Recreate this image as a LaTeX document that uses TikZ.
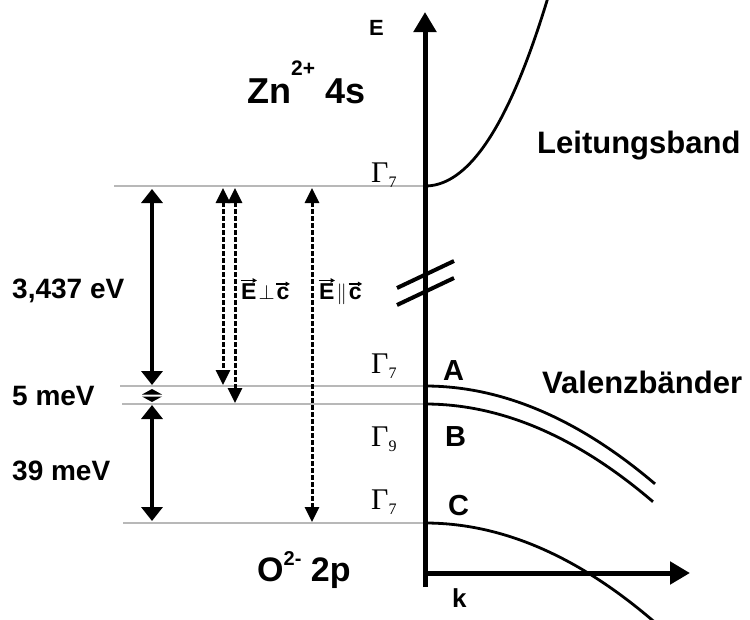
\documentclass[tikz,border=0pt]{standalone}
\usepackage{fontspec}
\setmainfont{Liberation Sans}
\newfontfamily\gamfont{Liberation Serif}
\usetikzlibrary{arrows.meta}
\newcommand\fs[1]{\fontsize{#1}{#1}\selectfont}
\newcommand\vecb[1]{\tikz[baseline=(v.base)]{\node[inner sep=0pt, anchor=center] (v) at (0,0) {#1};
  \draw[line width=1.2pt, -{Triangle[width=4.5pt,length=4.5pt]}] ([yshift=2.5pt]v.north west) -- ([yshift=2.5pt,xshift=0.5pt]v.north east);}}
\newcommand\gam[1]{{\gamfont\mdseries\fs{30}Γ\raisebox{-5pt}{\fs{16}#1}}}
\tikzset{
  lbl/.style={inner sep=0pt, anchor=base west, font=\bfseries},
  level/.style={draw=black!28, line width=1.4pt},
  band/.style={line width=2.8pt},
  axis/.style={line width=5pt, -{Triangle[width=22pt,length=20pt]}},
  bigarr/.style={line width=4pt, {Triangle[width=21pt,length=14pt]}-{Triangle[width=21pt,length=14pt]}},
  dasharr/.style={line width=3pt, dash pattern=on 4.5pt off 2.5pt, {Triangle[width=14pt,length=15pt]}-{Triangle[width=14pt,length=15pt]}},
}
\begin{document}
\begin{tikzpicture}[x=1pt,y=-1pt]
\useasboundingbox (0,0) rectangle (750,619);
% level lines
\coordinate (L1) at (425,186);
\coordinate (L2) at (425,386);
\coordinate (L3) at (425,404);
\coordinate (L4) at (425,523);
\draw[level] (114,186) -- (L1);
\draw[level] (120,386) -- (L2);
\draw[level] (122,404) -- (L3);
\draw[level] (123,523) -- (L4);
% axes
\coordinate (O) at (425,587);
\coordinate (Etop) at (425,12);
\coordinate (K0) at (423,573);
\coordinate (Kend) at (690,573);
\draw[axis] (O) -- (Etop);
\draw[axis] (K0) -- (Kend);
% break marks
\draw[line width=4pt] (397,288) -- (454,261);
\draw[line width=4pt] (397,305) -- (454,278);
% bands
\draw[band] plot[domain=0:123, samples=80] ({425+\x},{186-105*(\x/100)^2-16*(\x/100)^3});
\draw[band] plot[domain=0:230, samples=80] ({425+\x},{386+18.5*(\x/100)^2});
\draw[band] plot[domain=0:228, samples=80] ({425+\x},{404+18.8*(\x/100)^2});
\draw[band] plot[domain=0:232, samples=80] ({425+\x},{523+18.8*(\x/100)^2});
% energy arrows
\coordinate (a1) at (152,189); \coordinate (a2) at (152,385);
\coordinate (a3) at (152,405); \coordinate (a4) at (152,521);
\draw[bigarr] (a1) -- (a2);
\draw[bigarr] (a3) -- (a4);
\fill (142,394.5) -- (162,394.5) -- (152,389) -- cycle;
\fill (142,396.5) -- (162,396.5) -- (152,402) -- cycle;
% optical transitions
\coordinate (d1t) at (223,188); \coordinate (d1b) at (223,385);
\coordinate (d2t) at (235,188); \coordinate (d2b) at (235,403);
\coordinate (d3t) at (312,188); \coordinate (d3b) at (312,522);
\draw[dasharr] (d1t) -- (d1b);
\draw[dasharr] (d2t) -- (d2b);
\draw[dasharr] (d3t) -- (d3b);
% labels
\node[lbl, font=\bfseries\fs{22}] (Elab) at (369,35) {E};
\node[lbl, font=\bfseries\fs{26}] (klab) at (452,607) {k};
\node[lbl, font=\bfseries\fs{36}] (zn) at (247,103) {Zn\raisebox{28pt}{\fs{21}2+} 4s};
\node[lbl, font=\bfseries\fs{34}] (ox) at (257,581) {O\raisebox{16pt}{\fs{20}2-} 2p};
\node[lbl, font=\bfseries\fs{28}] (gap) at (12,298) {3,437 eV};
\node[lbl, font=\bfseries\fs{28}] (d5) at (12,405) {5 meV};
\node[lbl, font=\bfseries\fs{28}] (d39) at (12,480) {39 meV};
\node[lbl, font=\bfseries\fs{31}] (lb) at (537,153) {Leitungsband};
\node[lbl, font=\bfseries\fs{31}] (vb) at (542,393) {Valenzbänder};
\node[lbl, font=\bfseries\fs{23}] (perp) at (240,299) {\vecb{E}\kern1pt{\mdseries\fs{20}$\perp$}\kern1pt\vecb{c}};
\node[lbl, font=\bfseries\fs{23}] (para) at (318,299) {\vecb{E}\kern1pt{\mdseries\fs{20}$\|$}\kern1pt\vecb{c}};
\node[lbl] (g1) at (371,182) {\gam{7}};
\node[lbl] (g2) at (371,373) {\gam{7}};
\node[lbl] (g3) at (371,446) {\gam{9}};
\node[lbl] (g4) at (371,509) {\gam{7}};
\node[lbl, font=\bfseries\fs{29}] (A) at (443,380) {A};
\node[lbl, font=\bfseries\fs{29}] (B) at (445,446) {B};
\node[lbl, font=\bfseries\fs{29}] (C) at (448,515) {C};
\end{tikzpicture}
\end{document}
